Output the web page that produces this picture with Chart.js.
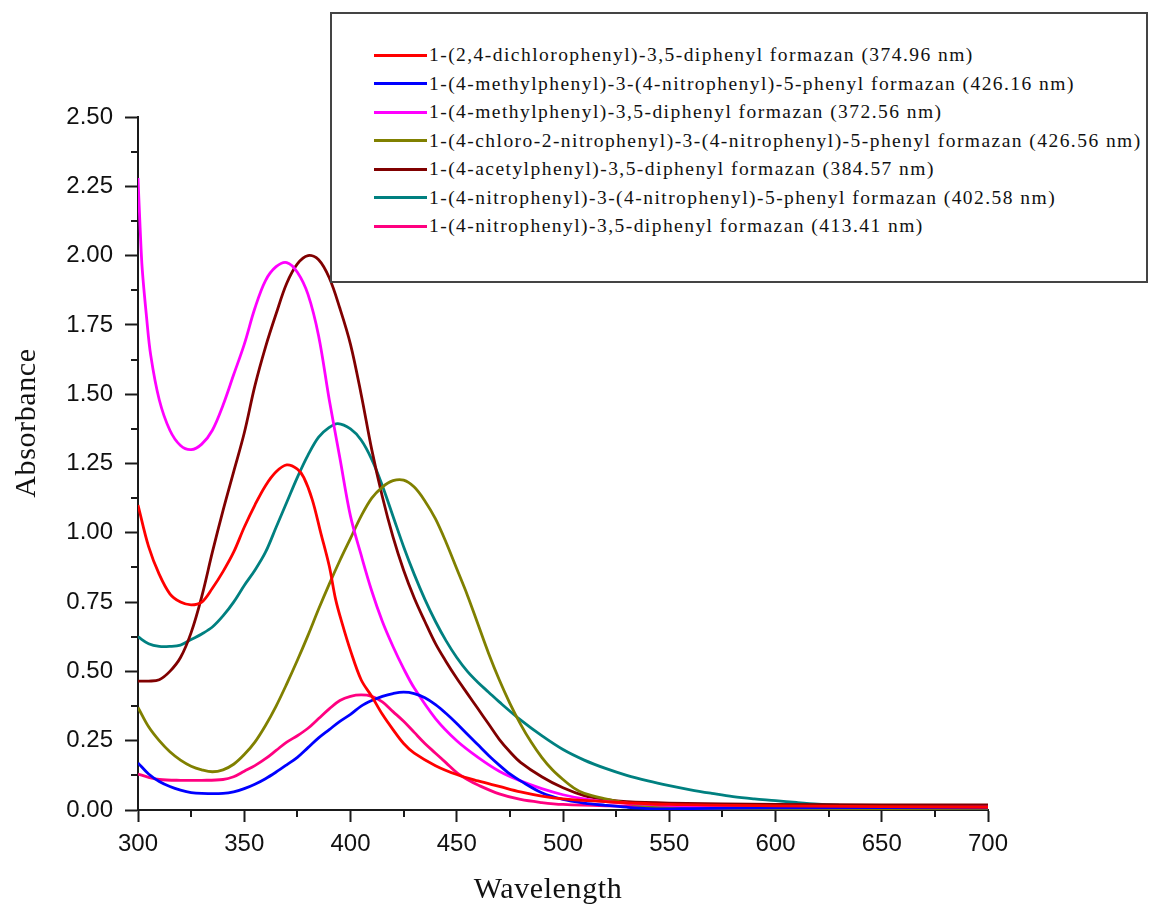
<!DOCTYPE html>
<html>
<head>
<meta charset="utf-8">
<script src="https://cdn.jsdelivr.net/npm/chart.js@4/dist/chart.umd.min.js"></script>
<style>
  html, body { margin:0; padding:0; background:#fff; }
  #wrap { position:relative; width:1150px; height:907px; overflow:hidden; }
  #c { position:absolute; left:0; top:0; }
  .axt { position:absolute; font-family:"Liberation Serif","Times New Roman",serif; font-size:30px; line-height:30px; letter-spacing:0.6px; color:#111; white-space:nowrap; width:300px; text-align:center; }
  #legend { position:absolute; left:330px; top:12px; width:818px; height:271px; border:2px solid #444; background:#fff; padding-top:26.75px; box-sizing:border-box; }
  .row { height:28.5px; display:flex; align-items:center; }
  .swatch { width:53px; height:3px; margin-left:42px; margin-right:2px; flex:none; }
  .lab { font-family:"Liberation Serif","Times New Roman",serif; font-size:19.5px; letter-spacing:1.45px; color:#111; white-space:nowrap; }
</style>
</head>
<body>
<div id="wrap">
  <canvas id="c" width="1150" height="907"></canvas>
  <div id="legend"></div>
  <div class="axt" id="ytitle" style="left:-125px; top:408px; transform:rotate(-90deg);">Absorbance</div>
  <div class="axt" id="xtitle" style="left:398px; top:873px;">Wavelength</div>
</div>
<script>
// ---- series names ----
const names = [
  "1-(2,4-dichlorophenyl)-3,5-diphenyl formazan (374.96 nm)",
  "1-(4-methylphenyl)-3-(4-nitrophenyl)-5-phenyl formazan (426.16 nm)",
  "1-(4-methylphenyl)-3,5-diphenyl formazan (372.56 nm)",
  "1-(4-chloro-2-nitrophenyl)-3-(4-nitrophenyl)-5-phenyl formazan (426.56 nm)",
  "1-(4-acetylphenyl)-3,5-diphenyl formazan (384.57 nm)",
  "1-(4-nitrophenyl)-3-(4-nitrophenyl)-5-phenyl formazan (402.58 nm)",
  "1-(4-nitrophenyl)-3,5-diphenyl formazan (413.41 nm)"
];
const colors = ["#ff0000","#0000ff","#ff00ff","#808000","#800000","#008080","#ff0080"];

// ---- series data (wavelength nm, absorbance) ----
const wlRed  = [300,305,310,315,320,325,330,335,340,345,350,355,360,365,370,375,378,382,386,390,393,396,400,405,410,415,420,425,430,440,450,460,470,480,490,500,520,550,600,700];
const absRed = [1.10,0.95,0.85,0.78,0.75,0.74,0.75,0.80,0.86,0.93,1.02,1.10,1.17,1.22,1.245,1.23,1.20,1.12,1.00,0.88,0.76,0.675,0.575,0.47,0.41,0.345,0.29,0.24,0.205,0.16,0.128,0.105,0.085,0.065,0.05,0.04,0.03,0.02,0.015,0.01];

const wlBlue  = [300,305,310,315,320,325,330,340,345,350,355,360,365,370,375,380,385,390,395,400,405,410,415,420,425,430,435,440,445,450,455,460,465,470,475,480,490,500,510,520,530,540,550,560,600,700];
const absBlue = [0.17,0.13,0.103,0.085,0.072,0.063,0.06,0.06,0.065,0.077,0.093,0.113,0.137,0.163,0.19,0.225,0.26,0.29,0.32,0.345,0.375,0.395,0.41,0.42,0.425,0.42,0.405,0.38,0.348,0.312,0.273,0.235,0.197,0.162,0.13,0.105,0.062,0.038,0.025,0.017,0.01,0.005,0.004,0.005,0.008,0.008];

const wlMag  = [300,301,302,304,306,310,315,320,325,330,335,340,345,350,355,360,365,370,375,380,385,390,395,400,405,410,415,420,425,430,440,450,460,470,480,490,500,510,520,540,560,600,700];
const absMag = [2.28,2.10,1.95,1.78,1.64,1.48,1.37,1.315,1.30,1.32,1.37,1.46,1.57,1.68,1.81,1.91,1.96,1.975,1.94,1.86,1.71,1.48,1.27,1.06,0.92,0.79,0.68,0.59,0.51,0.44,0.33,0.25,0.19,0.14,0.105,0.077,0.055,0.04,0.03,0.02,0.015,0.01,0.01];

const wlOlive  = [300,305,310,315,320,325,330,335,340,345,350,355,360,365,370,375,380,385,390,395,400,405,410,415,420,425,430,435,440,445,450,455,460,465,470,475,480,485,490,495,500,505,510,520,530,540,550,560,600,700];
const absOlive = [0.37,0.30,0.25,0.21,0.18,0.158,0.145,0.138,0.145,0.165,0.20,0.245,0.305,0.375,0.455,0.54,0.63,0.725,0.815,0.90,0.98,1.06,1.125,1.165,1.188,1.19,1.165,1.115,1.05,0.965,0.87,0.775,0.67,0.565,0.47,0.385,0.31,0.245,0.19,0.145,0.11,0.08,0.06,0.04,0.025,0.012,0.006,0.003,0.003,0.003];

const wlMaroon  = [300,305,310,315,320,325,330,335,340,345,350,355,360,365,370,375,380,385,390,395,400,405,410,415,420,425,430,435,440,445,450,455,460,465,470,475,480,490,500,510,520,530,550,600,700];
const absMaroon = [0.465,0.465,0.47,0.50,0.55,0.64,0.77,0.93,1.08,1.22,1.36,1.53,1.67,1.79,1.90,1.97,2.00,1.985,1.92,1.81,1.68,1.50,1.30,1.13,0.985,0.865,0.765,0.68,0.60,0.535,0.475,0.42,0.365,0.31,0.255,0.21,0.172,0.12,0.08,0.052,0.038,0.03,0.025,0.02,0.018];

const wlTeal  = [300,305,310,315,320,325,330,335,340,345,350,355,360,365,370,375,380,385,390,394,400,405,410,415,420,425,430,435,440,445,450,455,460,465,470,480,490,500,510,520,530,540,550,560,570,580,590,600,610,620,630,640,660,700];
const absTeal = [0.625,0.60,0.59,0.59,0.595,0.615,0.635,0.66,0.70,0.75,0.81,0.865,0.93,1.02,1.11,1.20,1.28,1.345,1.38,1.394,1.375,1.335,1.265,1.17,1.06,0.95,0.85,0.76,0.68,0.61,0.55,0.50,0.46,0.425,0.39,0.325,0.268,0.218,0.18,0.15,0.125,0.105,0.088,0.073,0.06,0.048,0.04,0.034,0.027,0.021,0.017,0.014,0.012,0.012];

const wlPink  = [300,305,310,320,330,340,345,350,355,360,365,370,375,380,385,390,395,400,405,410,415,420,425,430,435,440,445,450,455,460,470,480,490,500,520,550,600,700];
const absPink = [0.13,0.118,0.11,0.107,0.107,0.11,0.12,0.14,0.16,0.185,0.215,0.245,0.268,0.295,0.33,0.365,0.395,0.41,0.415,0.41,0.39,0.355,0.32,0.28,0.24,0.205,0.17,0.135,0.11,0.09,0.058,0.038,0.027,0.02,0.015,0.012,0.01,0.01];

// ---- axis ticks ----
const xMajor = [300,350,400,450,500,550,600,650,700];
const xMinor = [325,375,425,475,525,575,625,675];
const yMajor = [0,0.25,0.5,0.75,1,1.25,1.5,1.75,2,2.25,2.5];
const yMinor = [0.125,0.375,0.625,0.875,1.125,1.375,1.625,1.875,2.125,2.375];

const seriesX = [wlRed, wlBlue, wlMag, wlOlive, wlMaroon, wlTeal, wlPink];
const seriesY = [absRed, absBlue, absMag, absOlive, absMaroon, absTeal, absPink];

const datasets = names.map((n, i) => ({
  label: n,
  data: seriesX[i].map((x, k) => ({x: x, y: seriesY[i][k]})),
  borderColor: colors[i],
  backgroundColor: colors[i],
  borderWidth: 2.8,
  pointRadius: 0,
  fill: false,
  tension: 0.35
}));

const AX = '#1a1a1a';
const minorPlugin = {
  id: 'minorTicks',
  afterDraw(chart) {
    const {ctx, scales: {x, y}} = chart;
    ctx.save();
    ctx.strokeStyle = AX;
    ctx.lineWidth = 2;
    xMinor.forEach(v => {
      const px = Math.round(x.getPixelForValue(v));
      ctx.beginPath(); ctx.moveTo(px, y.bottom); ctx.lineTo(px, y.bottom + 7); ctx.stroke();
    });
    yMinor.forEach(v => {
      const py = Math.round(y.getPixelForValue(v));
      ctx.beginPath(); ctx.moveTo(x.left, py); ctx.lineTo(x.left - 7, py); ctx.stroke();
    });
    ctx.restore();
  }
};

const chart = new Chart(document.getElementById('c'), {
  type: 'line',
  data: { datasets },
  options: {
    responsive: false,
    animation: false,
    devicePixelRatio: 1,
    layout: { padding: { left: 0, right: 162, top: 117, bottom: 0 } },
    plugins: { legend: { display: false }, tooltip: { enabled: false } },
    scales: {
      x: {
        type: 'linear', min: 300, max: 700,
        afterBuildTicks: s => { s.ticks = xMajor.map(v => ({value: v})); },
        ticks: { font: { family: 'Liberation Sans', size: 24 }, color: '#111', padding: 8, maxRotation: 0, autoSkip: false,
                 callback: v => String(v) },
        grid: { drawOnChartArea: false, drawTicks: true, tickLength: 12, tickColor: AX, tickWidth: 2 },
        border: { color: AX, width: 2 },
        afterFit: s => { s.height = 97; }
      },
      y: {
        type: 'linear', min: 0, max: 2.5,
        afterBuildTicks: s => { s.ticks = yMajor.map(v => ({value: v})); },
        ticks: { font: { family: 'Liberation Sans', size: 24 }, color: '#111', padding: 12, autoSkip: false,
                 callback: v => Number(v).toFixed(2) },
        grid: { drawOnChartArea: false, drawTicks: true, tickLength: 13, tickColor: AX, tickWidth: 2 },
        border: { color: AX, width: 2 },
        afterFit: s => { s.width = 138; }
      }
    }
  },
  plugins: [minorPlugin]
});

// ---- HTML legend built from the chart's datasets ----
const lg = document.getElementById('legend');
chart.data.datasets.forEach(ds => {
  const row = document.createElement('div'); row.className = 'row';
  const sw = document.createElement('div'); sw.className = 'swatch'; sw.style.background = ds.borderColor;
  const tx = document.createElement('span'); tx.className = 'lab'; tx.textContent = ds.label;
  row.appendChild(sw); row.appendChild(tx); lg.appendChild(row);
});
</script>
</body>
</html>
